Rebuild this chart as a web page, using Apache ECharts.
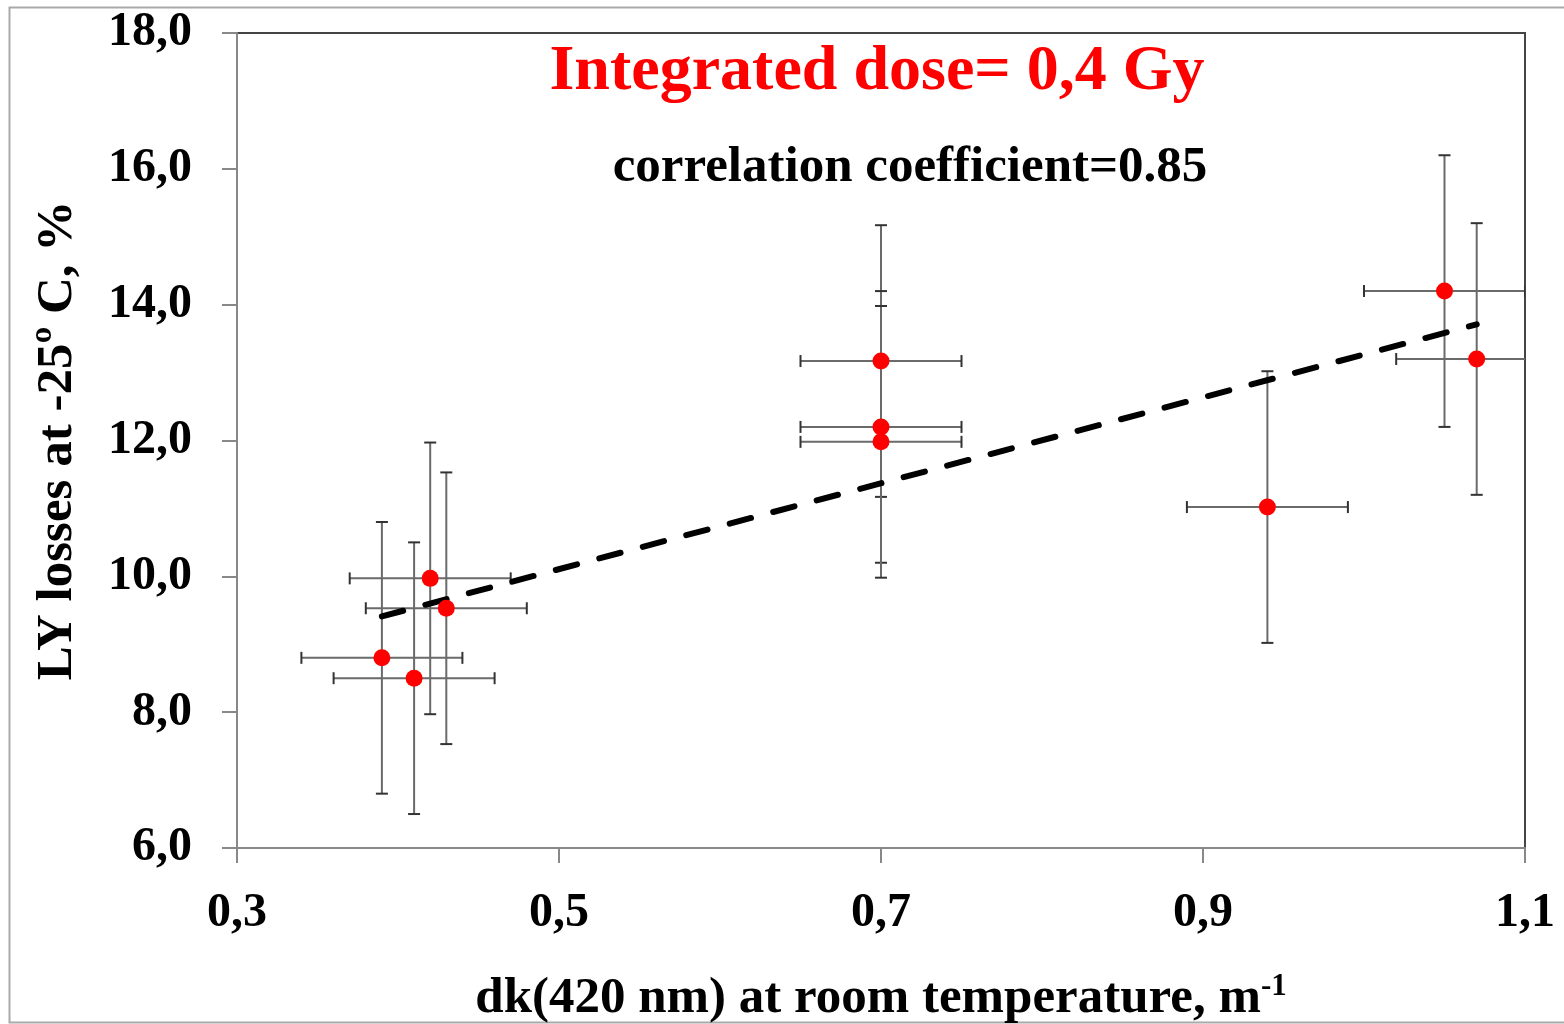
<!DOCTYPE html>
<html>
<head>
<meta charset="utf-8">
<script src="https://cdn.jsdelivr.net/npm/echarts@6/dist/echarts.min.js"></script>
<style>html,body{margin:0;padding:0;background:#fff;}#c{width:1564px;height:1024px;}</style>
</head>
<body>
<div id="c"></div>
<script>
// ---- data ----
const xVals = [0.39, 0.41, 0.42, 0.43, 0.70, 0.70, 0.70, 0.94, 1.05, 1.07];
const yVals = [8.80, 8.50, 9.97, 9.53, 13.17, 12.20, 11.98, 11.02, 14.20, 13.20];
const xErr  = [0.05, 0.05, 0.05, 0.05, 0.05, 0.05, 0.05, 0.05, 0.05, 0.05];
const yErr  = [2.0, 2.0, 2.0, 2.0, 2.0, 2.0, 2.0, 2.0, 2.0, 2.0];
const trendX = [0.39, 1.07];
const trendY = [9.41, 13.71];
const xTicks = [0.3, 0.5, 0.7, 0.9, 1.1];
const titleText = 'Integrated dose= 0,4 Gy';
const corrText = 'correlation coefficient=0.85';

const points = xVals.map((x, i) => [x, yVals[i]]);
const errData = xVals.map((x, i) => [x, yVals[i], xErr[i], yErr[i]]);
const trendData = trendX.map((x, i) => [x, trendY[i]]);

const FONT = '"Liberation Serif", "Times New Roman", serif';
const chart = echarts.init(document.getElementById('c'), null, {renderer: 'canvas'});
const fmt = v => v.toFixed(1).replace('.', ',');

function renderErr(params, api) {
  const x = api.value(0), y = api.value(1), ex = api.value(2), ey = api.value(3);
  const c = api.coord([x, y]);
  const l = api.coord([x - ex, y]);
  const r = api.coord([x + ex, y]);
  const t = api.coord([x, y + ey]);
  const b = api.coord([x, y - ey]);
  const cap = 6;
  const st = {stroke: '#6a6a6a', lineWidth: 2};
  const cst = {stroke: '#333', lineWidth: 2};
  return {
    type: 'group',
    children: [
      {type: 'line', shape: {x1: l[0], y1: c[1], x2: r[0], y2: c[1]}, style: st},
      {type: 'line', shape: {x1: l[0], y1: c[1] - cap, x2: l[0], y2: c[1] + cap}, style: cst},
      {type: 'line', shape: {x1: r[0], y1: c[1] - cap, x2: r[0], y2: c[1] + cap}, style: cst},
      {type: 'line', shape: {x1: c[0], y1: t[1], x2: c[0], y2: b[1]}, style: st},
      {type: 'line', shape: {x1: c[0] - cap, y1: t[1], x2: c[0] + cap, y2: t[1]}, style: cst},
      {type: 'line', shape: {x1: c[0] - cap, y1: b[1], x2: c[0] + cap, y2: b[1]}, style: cst}
    ]
  };
}

const option = {
  backgroundColor: '#fff',
  animation: false,
  grid: {left: 237, top: 33, right: 39, bottom: 176, outerBoundsMode: 'none', containLabel: false,
    show: true, borderColor: '#444', borderWidth: 2, backgroundColor: 'transparent'},
  xAxis: {
    type: 'value', min: 0.3, max: 1.1,
    name: 'dk(420 nm) at room temperature, m{sup|-1}',
    nameLocation: 'middle', nameGap: 123,
    nameTextStyle: {fontFamily: FONT, fontWeight: 'bold', fontSize: 51, color: '#000',
      rich: {sup: {fontFamily: FONT, fontWeight: 'bold', fontSize: 31, color: '#000', padding: [0, 0, 24, 0]}}},
    axisLine: {show: true, lineStyle: {color: '#888', width: 2}},
    axisTick: {show: true, length: 15, lineStyle: {color: '#888', width: 2}, customValues: xTicks},
    axisLabel: {customValues: xTicks, formatter: fmt, fontFamily: FONT, fontWeight: 'bold', fontSize: 48, color: '#000', margin: 42},
    splitLine: {show: false}
  },
  yAxis: {
    type: 'value', min: 6, max: 18, interval: 2,
    name: 'LY losses at -25º C, %',
    nameLocation: 'middle', nameGap: 154, nameRotate: 90,
    nameTextStyle: {fontFamily: FONT, fontWeight: 'bold', fontSize: 51, color: '#000'},
    axisLine: {show: true, lineStyle: {color: '#888', width: 2}},
    axisTick: {show: true, length: 15, lineStyle: {color: '#888', width: 2}},
    axisLabel: {formatter: fmt, fontFamily: FONT, fontWeight: 'bold', fontSize: 48, color: '#000', margin: 45},
    splitLine: {show: false}
  },
  graphic: [
    {type: 'rect', left: 7, top: 5, shape: {width: 1600, height: 1015}, style: {fill: 'none', stroke: '#aaa', lineWidth: 2}, silent: true, z: -10},
    {type: 'text', x: 877, y: 72, style: {text: titleText, fill: '#ff0000', font: 'bold 64px ' + FONT, textAlign: 'center', textVerticalAlign: 'middle'}},
    {type: 'text', x: 910, y: 168, style: {text: corrText, fill: '#000', font: 'bold 51px ' + FONT, textAlign: 'center', textVerticalAlign: 'middle'}}
  ],
  series: [
    {type: 'custom', renderItem: renderErr, data: errData, clip: true, z: 2, silent: true},
    {type: 'line', data: trendData, showSymbol: false, symbol: 'none', z: 3,
      lineStyle: {color: '#000', width: 6, type: [22, 23], cap: 'round'}},
    {type: 'scatter', data: points, symbol: 'circle', symbolSize: 17, z: 4,
      itemStyle: {color: '#ff0000', opacity: 1}}
  ]
};
chart.setOption(option);
</script>
</body>
</html>
